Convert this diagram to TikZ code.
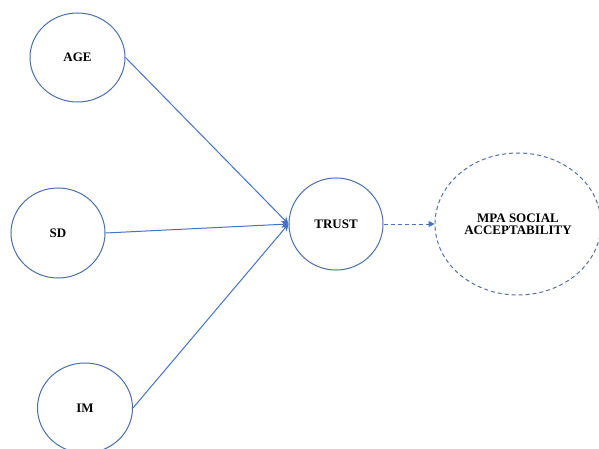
\documentclass[tikz,border=0pt]{standalone}
\usepackage{fontspec}
\setmainfont{Liberation Serif}
\usetikzlibrary{shapes.geometric,arrows.meta}
\definecolor{lineblue}{HTML}{4472C4}
\definecolor{edgeblue}{HTML}{4A6FA8}
\definecolor{dashblue}{HTML}{5570A0}
\begin{document}
\begin{tikzpicture}[x=1pt,y=-1pt,
  latent/.style={ellipse,draw=edgeblue,line width=1pt,inner sep=0pt,
    font=\bfseries\fontsize{13}{14}\selectfont,align=center},
  link/.style={draw=lineblue,line width=1pt,-{Stealth[length=7pt,width=7pt]}},
  dlink/.style={draw=lineblue,line width=1pt,dash pattern=on 4pt off 3pt,-{Triangle[length=6pt,width=6pt]}}]
\useasboundingbox (0,0) rectangle (599,449);
\node[latent,minimum width=95pt,minimum height=89pt] (age) at (77.5,57.5) {AGE};
\node[latent,minimum width=94pt,minimum height=90pt] (sd) at (58,233) {SD};
\node[latent,minimum width=95pt,minimum height=90pt] (im) at (85,408) {IM};
\node[latent,minimum width=94pt,minimum height=92pt] (trust) at (336,224) {TRUST};
\node[latent,draw=dashblue,dash pattern=on 4pt off 3pt,minimum width=166pt,minimum height=142pt] (mpa) at (518,224) {MPA SOCIAL\\[-2pt]ACCEPTABILITY};
\draw[link] (age.east) -- (trust.west);
\draw[link] (sd.east) -- (trust.west);
\draw[link] (im.east) -- (trust.west);
\draw[dlink] (trust.east) -- (mpa.west);
\end{tikzpicture}
\end{document}
